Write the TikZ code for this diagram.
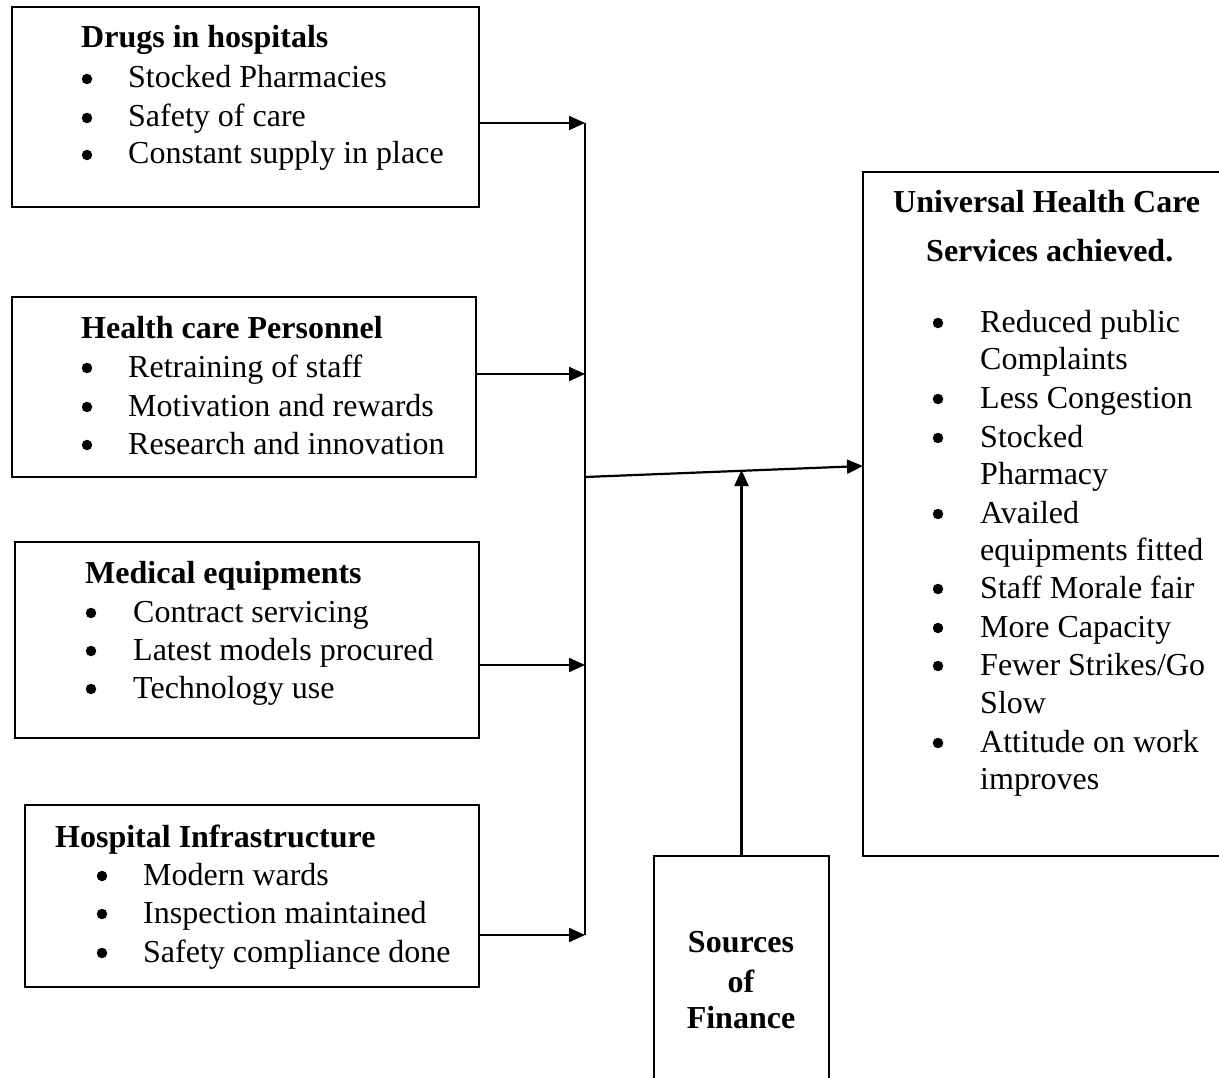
\documentclass[tikz,border=0pt]{standalone}
\usepackage{fontspec}
\setmainfont{Liberation Serif}
\usetikzlibrary{arrows.meta,calc}
\begin{document}
\begin{tikzpicture}[x=1pt,y=-1pt,
 box/.style={draw,line width=2.2pt,anchor=north west,inner sep=0pt,outer sep=0pt},
 txt/.style={anchor=base west,inner sep=0pt,font=\fontsize{32}{38}\selectfont},
 hd/.style={anchor=base west,inner sep=0pt,font=\fontsize{32}{38}\selectfont\bfseries},
 hdc/.style={anchor=base,inner sep=0pt,font=\fontsize{32}{38}\selectfont\bfseries},
 bul/.style={circle,fill,inner sep=0pt,minimum size=10.5pt},
 conn/.style={line width=2.2pt,-{Triangle[length=16pt,width=14pt]}},
 bus/.style={line width=1.4pt},
]
\useasboundingbox (0,0) rectangle (1219,1078);
\clip (0,0) rectangle (1219,1078);

% boxes
\node[box,minimum width=467pt,minimum height=200pt] (drugs) at (12,7) {};
\node[box,minimum width=464pt,minimum height=180pt] (staff) at (12,297) {};
\node[box,minimum width=464pt,minimum height=196pt] (equip) at (15,542) {};
\node[box,minimum width=454pt,minimum height=182pt] (infra) at (25,805) {};
\node[box,minimum width=420pt,minimum height=684pt] (rb) at (863,172) {};
\node[box,minimum width=175pt,minimum height=300pt] (fin) at (654,856) {};

% box 1
\node[hd] (h1) at (81,48) {Drugs in hospitals};
\foreach \y/\t [count=\i] in {88/{Stocked Pharmacies},127/{Safety of care},164/{Constant supply in place}}{
  \node[bul] (a\i) at (87,\y-9) {};
  \node[txt] (at\i) at (128,\y) {\t};
}
% box 2
\node[hd] (h2) at (81,338) {Health care Personnel};
\foreach \y/\t [count=\i] in {377/{Retraining of staff},416/{Motivation and rewards},454/{Research and innovation}}{
  \node[bul] (b\i) at (87,\y-9) {};
  \node[txt] (bt\i) at (128,\y) {\t};
}
% box 3
\node[hd] (h3) at (85,583) {Medical equipments};
\foreach \y/\t [count=\i] in {622/{Contract servicing},660/{Latest models procured},698/{Technology use}}{
  \node[bul] (c\i) at (91,\y-9) {};
  \node[txt] (ct\i) at (133,\y) {\t};
}
% box 4
\node[hd] (h4) at (55,847) {Hospital Infrastructure};
\foreach \y/\t [count=\i] in {885/{Modern wards},923/{Inspection maintained},962/{Safety compliance done}}{
  \node[bul] (d\i) at (102,\y-9) {};
  \node[txt] (dt\i) at (143,\y) {\t};
}

% right box
\node[hd] (r1) at (893,213) {Universal Health Care};
\node[hd] (r2) at (926,262) {Services achieved.};
\foreach \y [count=\i] in {332,408,447,523,598,637,675,752}{
  \node[bul] (rbul\i) at (938,\y-9) {};
}
\foreach \y/\t [count=\i] in {332/{Reduced public},369/{Complaints},408/{Less Congestion},447/{Stocked},484/{Pharmacy},523/{Availed},560/{equipments fitted},598/{Staff Morale fair},637/{More Capacity},675/{Fewer Strikes/Go},713/{Slow},752/{Attitude on work},789/{improves}}{
  \node[txt] (rt\i) at (980,\y) {\t};
}

% finance
\node[hdc] (f1) at (741,952) {Sources};
\node[hdc] (f2) at (741,992) {of};
\node[hdc] (f3) at (741,1028) {Finance};

% bus
\coordinate (bt) at (585,123);
\coordinate (b2) at (585,374);
\coordinate (b3) at (585,665);
\coordinate (bb) at (585,935);
\draw[bus] (bt) -- (bb);
\draw[conn] (drugs.east |- bt) -- (bt);
\draw[conn] (staff.east |- b2) -- (b2);
\draw[conn] (equip.east |- b3) -- (b3);
\draw[conn] (infra.east |- bb) -- (bb);

% to outcome
\coordinate (j) at (585,477);
\coordinate (hit) at (863,466);
\draw[conn] (j) -- (rb.west |- hit);
\coordinate (m) at (741.5,470);
\draw[conn] (fin.north) -- (m);
\end{tikzpicture}
\end{document}
